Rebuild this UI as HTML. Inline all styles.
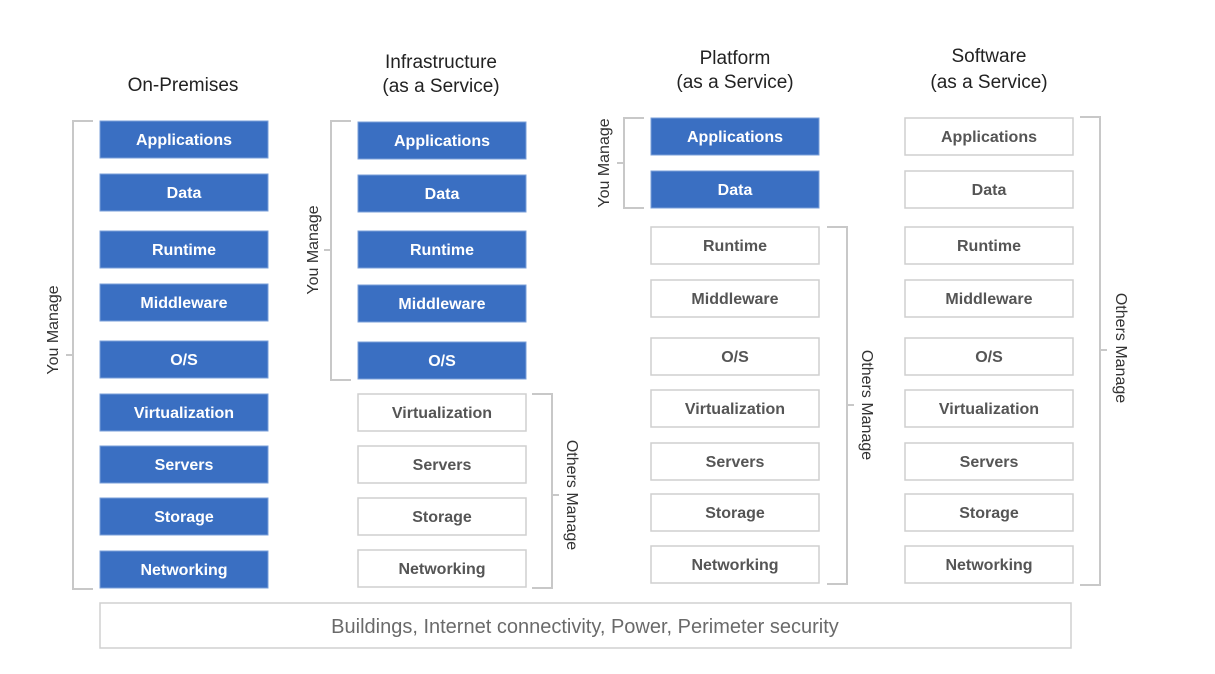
<!DOCTYPE html>
<html><head><style>body{margin:0;background:#fff}</style></head><body>
<svg width="1215" height="669" xmlns="http://www.w3.org/2000/svg" font-family="Liberation Sans, sans-serif">
<g font-size="19" fill="#222" text-anchor="middle">
<text x="183" y="91">On-Premises</text>
<text x="441" y="68">Infrastructure</text><text x="441" y="92">(as a Service)</text>
<text x="735" y="64">Platform</text><text x="735" y="88">(as a Service)</text>
<text x="989" y="62">Software</text><text x="989" y="88">(as a Service)</text>
</g>
<defs>
<g id="b"><rect width="168" height="37" fill="#3a6fc2" stroke="#7a9fd8" stroke-width="1"/></g>
<g id="w"><rect width="168" height="37" fill="#fff" stroke="#cfcfcf" stroke-width="1.5"/></g>
</defs>
<g font-size="16" font-weight="bold" text-anchor="middle">
<g fill="#fff">
<use href="#b" x="100" y="121"/><text x="184" y="145">Applications</text>
<use href="#b" x="100" y="174"/><text x="184" y="198">Data</text>
<use href="#b" x="100" y="231"/><text x="184" y="255">Runtime</text>
<use href="#b" x="100" y="284"/><text x="184" y="308">Middleware</text>
<use href="#b" x="100" y="341"/><text x="184" y="365">O/S</text>
<use href="#b" x="100" y="394"/><text x="184" y="418">Virtualization</text>
<use href="#b" x="100" y="446"/><text x="184" y="470">Servers</text>
<use href="#b" x="100" y="498"/><text x="184" y="522">Storage</text>
<use href="#b" x="100" y="551"/><text x="184" y="575">Networking</text>
<use href="#b" x="358" y="122"/><text x="442" y="146">Applications</text>
<use href="#b" x="358" y="175"/><text x="442" y="199">Data</text>
<use href="#b" x="358" y="231"/><text x="442" y="255">Runtime</text>
<use href="#b" x="358" y="285"/><text x="442" y="309">Middleware</text>
<use href="#b" x="358" y="342"/><text x="442" y="366">O/S</text>
<use href="#b" x="651" y="118"/><text x="735" y="142">Applications</text>
<use href="#b" x="651" y="171"/><text x="735" y="195">Data</text>
</g>
<g fill="#555">
<use href="#w" x="358" y="394"/><text x="442" y="418">Virtualization</text>
<use href="#w" x="358" y="446"/><text x="442" y="470">Servers</text>
<use href="#w" x="358" y="498"/><text x="442" y="522">Storage</text>
<use href="#w" x="358" y="550"/><text x="442" y="574">Networking</text>
<use href="#w" x="651" y="227"/><text x="735" y="251">Runtime</text>
<use href="#w" x="651" y="280"/><text x="735" y="304">Middleware</text>
<use href="#w" x="651" y="338"/><text x="735" y="362">O/S</text>
<use href="#w" x="651" y="390"/><text x="735" y="414">Virtualization</text>
<use href="#w" x="651" y="443"/><text x="735" y="467">Servers</text>
<use href="#w" x="651" y="494"/><text x="735" y="518">Storage</text>
<use href="#w" x="651" y="546"/><text x="735" y="570">Networking</text>
<use href="#w" x="905" y="118"/><text x="989" y="142">Applications</text>
<use href="#w" x="905" y="171"/><text x="989" y="195">Data</text>
<use href="#w" x="905" y="227"/><text x="989" y="251">Runtime</text>
<use href="#w" x="905" y="280"/><text x="989" y="304">Middleware</text>
<use href="#w" x="905" y="338"/><text x="989" y="362">O/S</text>
<use href="#w" x="905" y="390"/><text x="989" y="414">Virtualization</text>
<use href="#w" x="905" y="443"/><text x="989" y="467">Servers</text>
<use href="#w" x="905" y="494"/><text x="989" y="518">Storage</text>
<use href="#w" x="905" y="546"/><text x="989" y="570">Networking</text>
</g>
</g>
<rect x="100" y="603" width="971" height="45" fill="#fff" stroke="#d0d0d0" stroke-width="1.5"/>
<text x="585" y="633" font-size="20" fill="#6a6a6a" text-anchor="middle">Buildings, Internet connectivity, Power, Perimeter security</text>
<g fill="none" stroke="#c8c8c8" stroke-width="2">
<path d="M93 121H73V589H93"/><path d="M66 355H73"/>
<path d="M351 121H331V380H351"/><path d="M324 250H331"/>
<path d="M532 394H552V588H532"/><path d="M552 495H559"/>
<path d="M644 118H624V208H644"/><path d="M617 163H624"/>
<path d="M827 227H847V584H827"/><path d="M847 405H854"/>
<path d="M1080 117H1100V585H1080"/><path d="M1100 350H1107"/>
</g>
<g font-size="16" fill="#333" text-anchor="middle">
<text transform="translate(58,330) rotate(-90)">You Manage</text>
<text transform="translate(318,250) rotate(-90)">You Manage</text>
<text transform="translate(609,163) rotate(-90)">You Manage</text>
<text transform="translate(567,495) rotate(90)">Others Manage</text>
<text transform="translate(862,405) rotate(90)">Others Manage</text>
<text transform="translate(1116,348) rotate(90)">Others Manage</text>
</g>
</svg>
</body></html>
